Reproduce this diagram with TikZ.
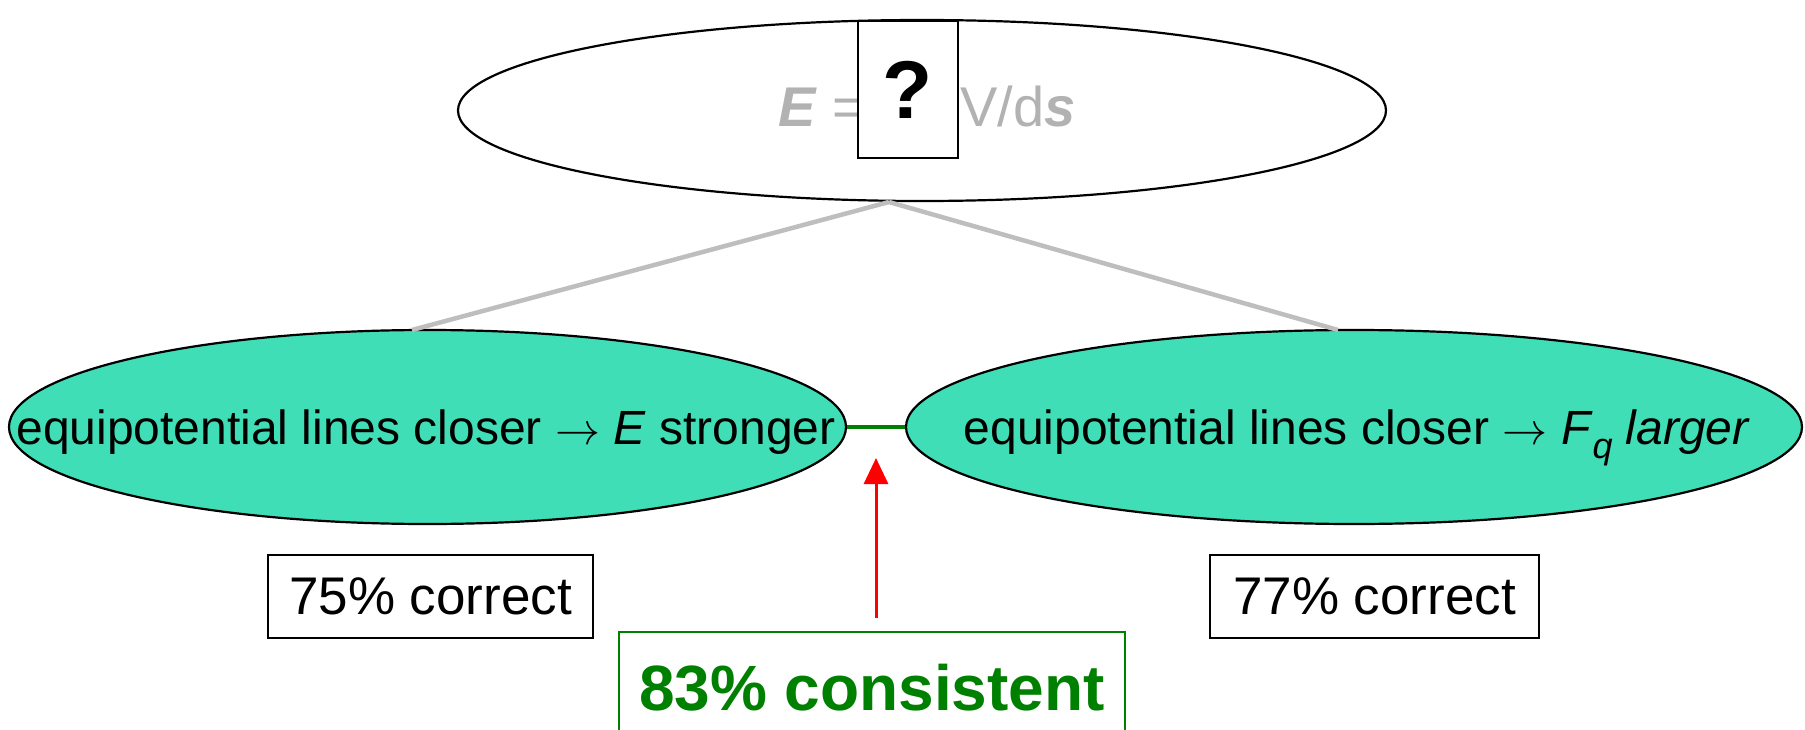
\documentclass[tikz,border=0pt]{standalone}
\usepackage{fontspec}
\setmainfont{Liberation Sans}
\usetikzlibrary{shapes.geometric,arrows.meta}
\definecolor{aqua}{RGB}{64,222,182}
\definecolor{lgray}{RGB}{178,178,178}
\definecolor{lline}{RGB}{190,190,190}
\definecolor{dgreen}{RGB}{0,128,0}
\newcommand{\myarrow}{\resizebox{45pt}{!}{$\rightarrow$}}
\begin{document}
\begin{tikzpicture}[x=1pt,y=-1pt,
  ell/.style={ellipse, draw=black, line width=2.2pt, inner sep=0pt},
  box/.style={rectangle, draw=black, line width=1.6pt, fill=white, inner sep=0pt},
  etxt/.style={inner sep=0pt, anchor=base, font=\fontsize{48}{58}\selectfont},
  gtxt/.style={inner sep=0pt, anchor=base west, text=lgray, font=\fontsize{56}{64}\selectfont},
  btxt/.style={font=\fontsize{53}{62}\selectfont},
  glink/.style={draw=lline, line width=4.5pt},
]
\clip (0,0) rectangle (1805,730);
\fill[white] (0,0) rectangle (1805,730);
% top ellipse
\node[ell, minimum width=928, minimum height=181] (top) at (922,110.5) {};
\node[gtxt] (lhs) at (778,127) {\textbf{\textit{E}} =};
\node[gtxt] (rhs) at (960,127) {V/d\textbf{\textit{s}}};
\node[box, minimum width=100, minimum height=137, font=\fontsize{82}{88}\bfseries\selectfont] (q) at (908,89.5) {?};
% lower ellipses
\node[ell, fill=aqua, minimum width=837, minimum height=194] (L) at (427.5,427) {};
\node[etxt] (Lt) at (426,444) {equipotential lines closer \myarrow{} \textit{E} stronger};
\node[ell, fill=aqua, minimum width=896, minimum height=194] (R) at (1354,427) {};
\node[etxt] (Rt) at (1357,444) {equipotential lines closer \myarrow{} \textit{F}\raisebox{-14pt}{\fontsize{36}{40}\selectfont\textit{q}} \textit{larger}};
% gray links
\coordinate (apex) at (889,202);
\coordinate (lt) at (412,330);
\coordinate (rt) at (1338,330);
\draw[glink] (apex) -- (lt);
\draw[glink] (apex) -- (rt);
% green link
\draw[dgreen, line width=4pt] (L.east) -- (R.west);
% boxes
\node[box, btxt, minimum width=325, minimum height=83] (c75) at (430.5,596.5) {75\% correct};
\node[box, btxt, minimum width=329, minimum height=83] (c77) at (1374.5,596.5) {77\% correct};
\node[box, draw=dgreen, text=dgreen, minimum width=506, minimum height=112, font=\fontsize{64}{74}\bfseries\selectfont] (c83) at (872,688) {83\% consistent};
% red arrow
\coordinate (ra) at (876,618);
\coordinate (rb) at (876,458);
\draw[red, line width=3pt, -{Triangle[length=26pt,width=24pt]}] (ra) -- (rb);
\end{tikzpicture}
\end{document}
